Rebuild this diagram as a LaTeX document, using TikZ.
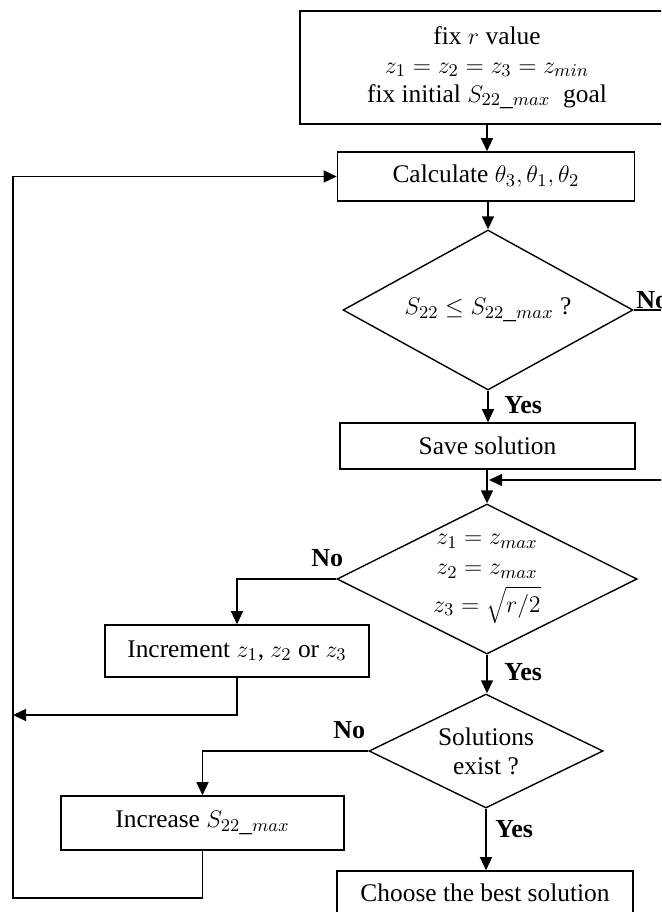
\documentclass[tikz,border=0pt]{standalone}
\usepackage{fontspec}
\setmainfont{Liberation Serif}
\usetikzlibrary{positioning,shapes.geometric,arrows.meta}

\begin{document}
\begin{tikzpicture}[
  x=0.5pt, y=-0.5pt,
  font=\fontsize{12.7}{14.5}\selectfont,
  box/.style={draw, line width=0.8pt, inner sep=0pt, align=center},
  decide/.style={diamond, draw, line width=0.7pt, inner sep=0pt, align=center},
  flow/.style={-{Triangle[length=6.5pt,width=6pt]}, line width=0.7pt},
  plain/.style={line width=0.7pt},
  yn/.style={font=\fontsize{13}{15}\selectfont\bfseries, inner sep=0pt},
]

% background
\fill[white] (0,0) rectangle (661,912);
\useasboundingbox (0,0) rectangle (661,912);
\clip (0,0) rectangle (661,912);

% main column
\node[box, minimum width=187pt, minimum height=56.5pt] (start) at (487,67.5)
  {fix $r$ value\\$z_1=z_2=z_3=z_{min}$\\fix initial $S_{22\_max}$\ \ goal};
\node[box, minimum width=148.5pt, minimum height=24.5pt] (calc) at (486,176.5)
  {Calculate $\theta_3, \theta_1, \theta_2$};
\node[decide, aspect=1.8, minimum width=145pt, minimum height=80pt] (chk) at (488,310)
  {$S_{22}\le S_{22\_max}$ ?};
\node[box, minimum width=147.5pt, minimum height=23pt] (save) at (487.5,446)
  {Save solution};
\node[decide, aspect=2, minimum width=150pt, minimum height=75pt,
      font=\fontsize{12.7}{14}\selectfont] (limit) at (487,579)
  {$z_1=z_{max}$\\[1pt]$z_2=z_{max}$\\[3pt]$z_3=\sqrt{r/2}$};
\node[decide, aspect=2, minimum width=117pt, minimum height=57pt] (exist) at (486,751)
  {Solutions\\exist ?};
\node[box, minimum width=148pt, minimum height=22pt] (best) at (485,893)
  {Choose the best solution};

% side boxes
\node[box, minimum width=132pt, minimum height=26pt] (incz) at (237,651)
  {Increment $z_1$, $z_2$ or $z_3$};
\node[box, minimum width=141.5pt, minimum height=27pt] (incs) at (202.5,823)
  {Increase $S_{22\_max}$};

% loop and off-page points
\coordinate (loopB) at (13,898);
\coordinate (loopM) at (13,715);
\coordinate (offA) at (690,310);
\coordinate (offB) at (690,480);
\coordinate (merge) at (489,480);

% main arrows
\draw[flow] (start.south) -- (start.south |- calc.north);
\draw[flow] (calc.south -| chk.north) -- (chk.north);
\draw[flow] (chk.south) -- (chk.south |- save.north);
\draw[flow] (save.south -| limit.north) -- (limit.north);
\draw[flow] (limit.south) -- (limit.south |- exist.north);
\draw[flow] (exist.south) -- (exist.south |- best.north);

% no branches
\draw[plain] (chk.east) -- (offA);
\draw[flow] (offB) -- (merge);
\draw[flow] (limit.west) -| (incz.north);
\draw[flow] (exist.west) -| (incs.north);
\draw[flow] (incz.south) |- (loopM);
\draw[flow] (incs.south) |- (loopB) |- (calc.west);

% labels
\node[yn, anchor=base west] (noA) at (636,308) {No};
\node[yn, anchor=base west] (yesA) at (504,413) {Yes};
\node[yn, anchor=base west] (noB) at (311,566) {No};
\node[yn, anchor=base west] (yesB) at (504,680) {Yes};
\node[yn, anchor=base west] (noC) at (333,738) {No};
\node[yn, anchor=base west] (yesC) at (495,837) {Yes};

\end{tikzpicture}
\end{document}
